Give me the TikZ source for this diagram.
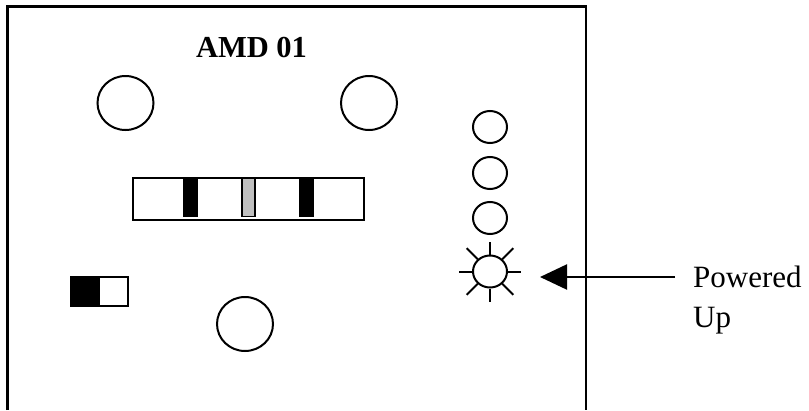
\documentclass[tikz,border=0pt]{standalone}
\usepackage{fontspec}
\setmainfont{Liberation Serif}
\usetikzlibrary{arrows.meta,shapes.geometric,calc}
\begin{document}
\begin{tikzpicture}[x=1pt,y=-1pt,
  frame/.style={line width=2.6pt},
  knob/.style={draw,line width=2pt,ellipse,minimum width=56pt,minimum height=54pt,inner sep=0pt},
  lamp/.style={draw,line width=2pt,ellipse,minimum width=34pt,minimum height=32pt,inner sep=0pt},
  ray/.style={line width=2pt},
  label/.style={font=\fontsize{31}{36}\selectfont,inner sep=0pt}]
\useasboundingbox (0,0) rectangle (809,410);
% housing
\draw[frame] (7.5,410) -- (7.5,6.5) -- (586,6.5) -- (586,410);
% title
\node[label,font=\fontsize{30.5}{36}\selectfont\bfseries,anchor=base] (title) at (251.5,57) {AMD 01};
% knobs
\node[knob] (k1) at (125.5,103) {};
\node[knob] (k2) at (369,103) {};
\node[knob] (k3) at (245,324) {};
% slider bar
\draw[line width=2pt] (133.3,178.3) rectangle (364.3,220);
\fill[black] (183,178.3) rectangle (198,216.7);
\fill[black] (299,178.3) rectangle (314,216.7);
\draw[line width=1.3pt,fill=black!25] (242,178.8) rectangle (255,216.2);
% switch
\draw[line width=2pt] (71,277) rectangle (128,306);
\fill[black] (71,277) rectangle (100,306);
% indicator lamps
\node[lamp] (l1) at (490,127) {};
\node[lamp] (l2) at (490,173) {};
\node[lamp] (l3) at (490,218) {};
\node[lamp] (sun) at (490,271.5) {};
\foreach \a/\r in {0/31,90/30,180/31,270/30,45/33,135/33,225/33,315/33}
  \draw[ray] ($(sun.center)+(\a:17)$) -- ($(sun.center)+(\a:\r)$);
% arrow
\coordinate (tail) at (675,277);
\coordinate (tip) at (540,277);
\draw[line width=2.2pt,-{Triangle[length=27pt,width=25pt]}] (tail) -- (tip);
\node[label,anchor=base west] (pw) at (693,287) {Powered};
\node[label,anchor=base west] (up) at (693,327) {Up};
\end{tikzpicture}
\end{document}
